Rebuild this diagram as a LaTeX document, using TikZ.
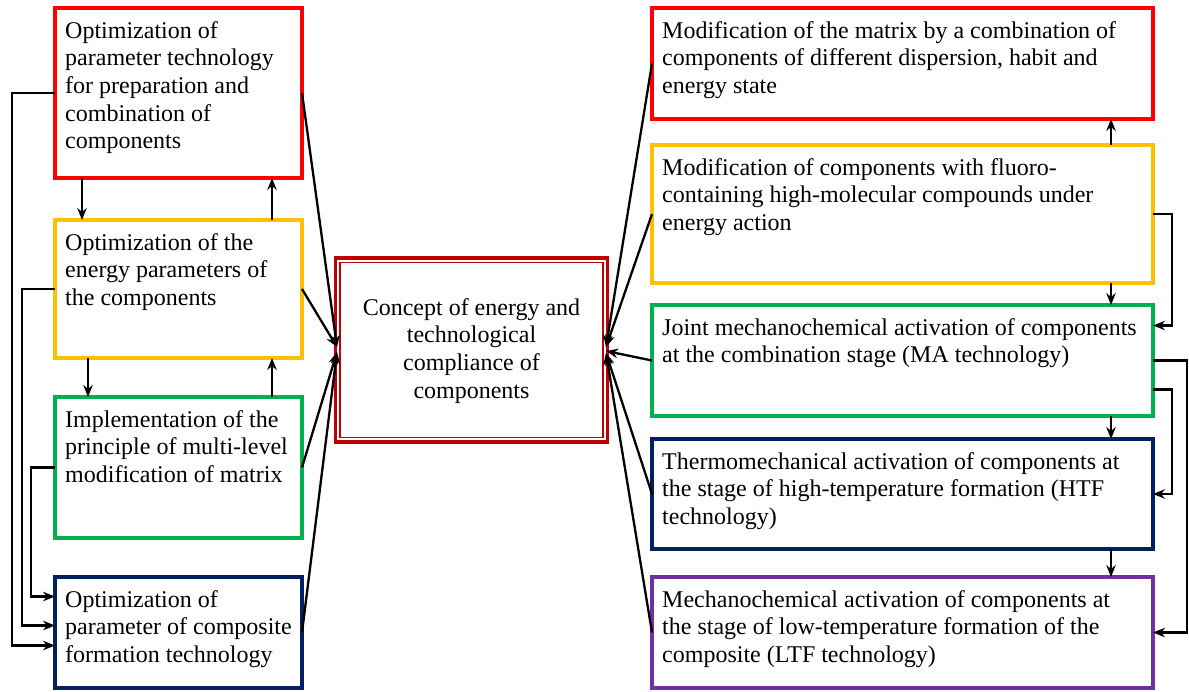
\documentclass[tikz,border=0pt]{standalone}
\usepackage{fontspec}
\setmainfont{Liberation Serif}
\usetikzlibrary{arrows.meta}
\definecolor{cred}{RGB}{255,0,0}
\definecolor{cyel}{RGB}{255,192,0}
\definecolor{cgrn}{RGB}{0,176,80}
\definecolor{cnavy}{RGB}{0,32,96}
\definecolor{cpurp}{RGB}{112,48,160}
\definecolor{cdred}{RGB}{192,0,0}
\begin{document}
\begin{tikzpicture}[x=1pt,y=-1pt,
  box/.style={draw, line width=3.4pt, inner sep=0pt, outer sep=0pt, rectangle},
  lbox/.style={box, minimum width=247pt},
  rbox/.style={box, minimum width=501pt},
  txt/.style={anchor=north west, align=left, inner sep=0pt, font=\fontsize{24}{27.6}\selectfont},
  conn/.style={line width=2.3pt, -{Stealth[length=12pt,width=9.5pt,inset=4pt]}}
]
\useasboundingbox (0,0) rectangle (1189,691);

% left boxes
\node[lbox, draw=cred,  minimum height=170pt] (L1) at (178.5,93) {};
\node[lbox, draw=cyel,  minimum height=138pt] (L2) at (178.5,289) {};
\node[lbox, draw=cgrn,  minimum height=141pt] (L3) at (178.5,467.5) {};
\node[lbox, draw=cnavy, minimum height=111pt] (L4) at (178.5,632.5) {};

% right boxes
\node[rbox, draw=cred,  minimum height=111pt] (R1) at (902.5,63.5) {};
\node[rbox, draw=cyel,  minimum height=138pt] (R2) at (902.5,214) {};
\node[rbox, draw=cgrn,  minimum height=111pt] (R3) at (902.5,360.5) {};
\node[rbox, draw=cnavy, minimum height=110pt] (R4) at (902.5,494) {};
\node[rbox, draw=cpurp, minimum height=111pt] (R5) at (902.5,632.5) {};

% center box
\node[box, draw=cdred, minimum width=272pt, minimum height=184pt] (C) at (471.5,350) {};
\node[box, draw=cdred, line width=1.9pt, minimum width=263pt, minimum height=175pt] (Cin) at (C.center) {};

% texts
\node[txt] (tL1) at ([xshift=10pt,yshift=-10pt]L1.north west) {\rule{0pt}{20pt}Optimization of\\parameter technology\\for preparation and\\combination of\\components};
\node[txt] (tL2) at ([xshift=10pt,yshift=-10pt]L2.north west) {\rule{0pt}{20pt}Optimization of the\\energy parameters of\\the components};
\node[txt] (tL3) at ([xshift=10pt,yshift=-10pt]L3.north west) {\rule{0pt}{20pt}Implementation of the\\principle of multi-level\\modification of matrix};
\node[txt] (tL4) at ([xshift=10pt,yshift=-10pt]L4.north west) {\rule{0pt}{20pt}Optimization of\\parameter of composite\\formation technology};

\node[txt] (tR1) at ([xshift=10pt,yshift=-10pt]R1.north west) {\rule{0pt}{20pt}Modification of the matrix by a combination of\\components of different dispersion, habit and\\energy state};
\node[txt] (tR2) at ([xshift=10pt,yshift=-10pt]R2.north west) {\rule{0pt}{20pt}Modification of components with fluoro-\\containing high-molecular compounds under\\energy action};
\node[txt] (tR3) at ([xshift=10pt,yshift=-10pt]R3.north west) {\rule{0pt}{20pt}Joint mechanochemical activation of components\\at the combination stage (MA technology)};
\node[txt] (tR4) at ([xshift=10pt,yshift=-10pt]R4.north west) {\rule{0pt}{20pt}Thermomechanical activation of components at\\the stage of high-temperature formation (HTF\\technology)};
\node[txt] (tR5) at ([xshift=10pt,yshift=-10pt]R5.north west) {\rule{0pt}{20pt}Mechanochemical activation of components at\\the stage of low-temperature formation of the\\composite (LTF technology)};

\node[anchor=north, align=center, inner sep=0pt, font=\fontsize{24}{27.6}\selectfont] (tC) at ([yshift=-37pt]C.north) {\rule{0pt}{20pt}Concept of energy and\\technological\\compliance of\\components};

% target points on the center box
\coordinate (cl1) at ([xshift=1.5pt,yshift=3pt]C.west);
\coordinate (cl2) at ([xshift=1.5pt,yshift=-2pt]C.west);
\coordinate (cr1) at ([xshift=-1.5pt,yshift=3pt]C.east);
\coordinate (cr2) at ([xshift=-1.5pt,yshift=-1pt]C.east);
\coordinate (cr3) at ([xshift=-1.5pt,yshift=-3pt]C.east);

% arrows to center
\draw[conn] (L1.east) -- (cl1);
\draw[conn] (L2.east) -- (cl1);
\draw[conn] (L3.east) -- (cl2);
\draw[conn] (L4.east) -- (cl2);
\draw[conn] (R1.west) -- (cr1);
\draw[conn] (R2.west) -- (cr1);
\draw[conn] (R3.west) -- (cr2);
\draw[conn] (R4.west) -- (cr3);
\draw[conn] (R5.west) -- (cr3);

% vertical arrows left
\draw[conn] ([xshift=-96.5pt]L1.south) -- ([xshift=-96.5pt]L2.north);
\draw[conn] ([xshift=93.5pt]L2.north) -- ([xshift=93.5pt]L1.south);
\draw[conn] ([xshift=-90.5pt]L2.south) -- ([xshift=-90.5pt]L3.north);
\draw[conn] ([xshift=93.5pt]L3.north) -- ([xshift=93.5pt]L2.south);

% vertical arrows right
\draw[conn] ([xshift=208.5pt]R2.north) -- ([xshift=208.5pt]R1.south);
\draw[conn] ([xshift=208.5pt]R2.south) -- ([xshift=208.5pt]R3.north);
\draw[conn] ([xshift=208.5pt]R3.south) -- ([xshift=208.5pt]R4.north);
\draw[conn] ([xshift=208.5pt]R4.south) -- ([xshift=208.5pt]R5.north);

% left loops
\draw[conn] (L1.west) -- ++(-43,0) |- ([yshift=-13pt]L4.west);
\draw[conn] (L2.west) -- ++(-33,0) |- ([yshift=7pt]L4.west);
\draw[conn] (L3.west) -- ++(-24,0) |- ([yshift=36pt]L4.west);

% right loops
\draw[conn] (R2.east) -- ++(19,0) |- ([yshift=35pt]R3.east);
\draw[conn] (R3.east) -- ++(34,0) |- (R5.east);
\draw[conn] ([yshift=-29pt]R3.east) -- ++(19,0) |- (R4.east);
\end{tikzpicture}
\end{document}
